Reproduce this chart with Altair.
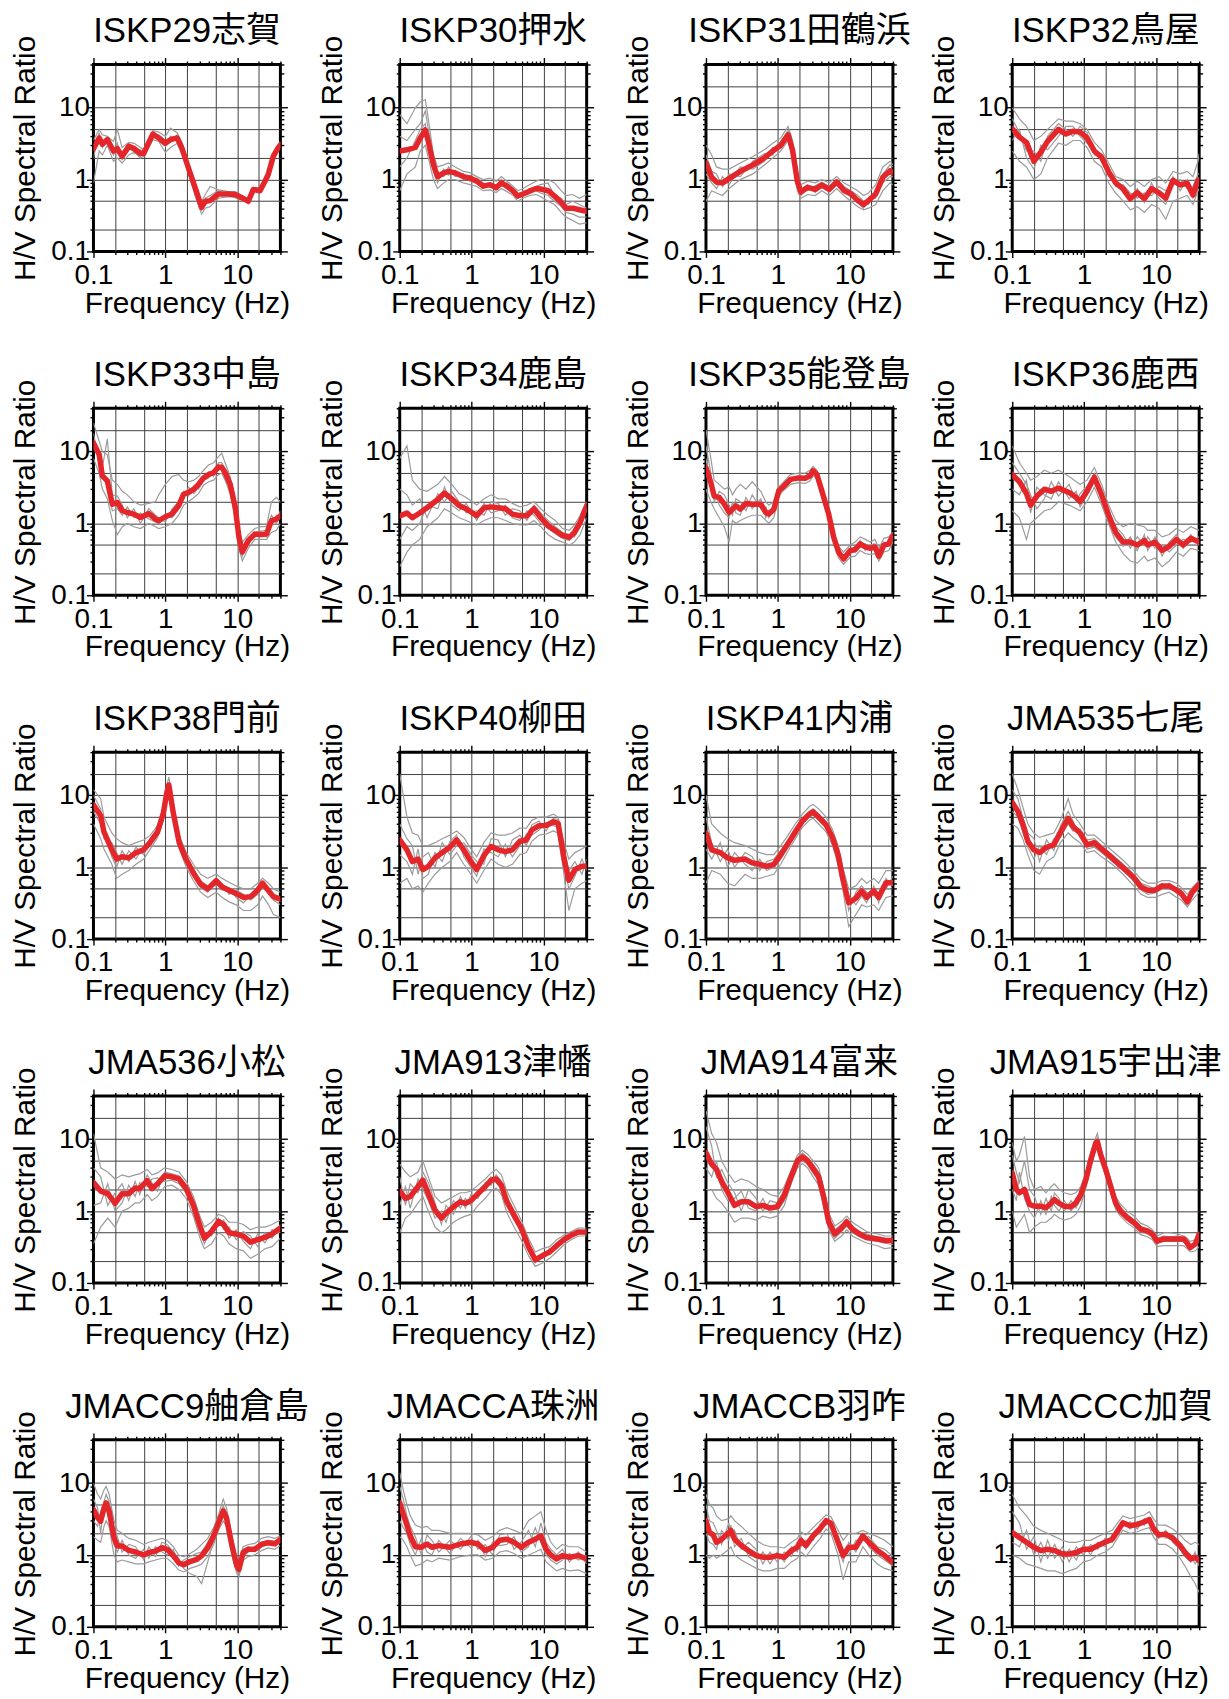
import altair as alt
import pandas as pd

# ---------------------------------------------------------------------------
# H/V spectral ratios per station: frequency samples (Hz), mean curve, and
# individual event curves on the same frequency samples.
# ---------------------------------------------------------------------------

ISKP29_F = [0.1, 0.12, 0.133, 0.156, 0.19, 0.215, 0.25, 0.31, 0.37, 0.45, 0.5, 0.59, 0.67, 0.81, 1.0, 1.18, 1.46, 1.7, 2.1, 2.6, 3.2, 3.6, 4.2, 5.5, 7.6, 9.4, 11.6, 14.3, 16.8, 20.8, 24.4, 27, 31.8, 37, 40]
ISKP29_MEAN = [2.7, 3.8, 3.1, 3.6, 2.5, 2.7, 2.1, 2.9, 2.7, 2.3, 2.3, 3.3, 4.3, 3.8, 3.2, 3.6, 3.8, 2.75, 1.45, 0.77, 0.41, 0.5, 0.51, 0.63, 0.63, 0.62, 0.56, 0.5, 0.73, 0.7, 0.95, 1.17, 2.1, 2.75, 3.05]
ISKP29_EVENTS = [
    [3.5, 5.0, 4.2, 4.0, 3.4, 5.0, 2.8, 3.3, 3.2, 2.8, 2.6, 3.6, 4.8, 4.6, 4.0, 5.2, 4.5, 3.3, 1.7, 0.9, 0.5, 0.62, 0.8, 0.72, 0.68, 0.68, 0.6, 0.52, 0.78, 0.75, 1.0, 1.25, 2.2, 2.9, 3.4],
    [0.9, 2.5, 2.2, 3.0, 1.8, 2.0, 1.7, 2.2, 2.4, 2.0, 2.1, 2.8, 3.6, 3.4, 2.4, 2.8, 3.2, 2.3, 1.2, 0.6, 0.33, 0.4, 0.42, 0.55, 0.58, 0.56, 0.52, 0.46, 0.68, 0.65, 0.88, 1.1, 1.9, 2.6, 2.9],
    [2.0, 4.5, 2.8, 3.9, 2.8, 2.3, 2.4, 3.2, 2.3, 2.6, 2.4, 3.0, 4.0, 4.2, 3.5, 3.3, 4.2, 3.0, 1.3, 0.7, 0.38, 0.55, 0.6, 0.7, 0.6, 0.64, 0.58, 0.5, 0.7, 0.72, 0.92, 1.2, 2.0, 2.8, 3.2],
    [3.0, 3.2, 3.6, 3.2, 2.2, 3.2, 1.9, 2.6, 2.9, 2.1, 2.5, 3.4, 4.5, 3.5, 2.9, 4.0, 3.5, 2.5, 1.5, 0.85, 0.45, 0.45, 0.5, 0.6, 0.65, 0.6, 0.55, 0.48, 0.75, 0.68, 0.96, 1.15, 2.2, 2.7, 3.0],
]

ISKP30_F = [0.1, 0.126, 0.165, 0.193, 0.227, 0.25, 0.295, 0.336, 0.41, 0.48, 0.59, 0.77, 0.95, 1.18, 1.45, 1.8, 2.2, 2.6, 3.1, 3.8, 4.4, 5.2, 6.4, 7.9, 9.1, 11.6, 14.3, 17.7, 20.6, 25.6, 31.7, 40]
ISKP30_MEAN = [2.5, 2.6, 2.8, 3.8, 4.9, 3.4, 1.6, 1.1, 1.24, 1.3, 1.24, 1.1, 1.05, 0.95, 0.81, 0.85, 0.77, 0.9, 0.81, 0.69, 0.59, 0.63, 0.69, 0.75, 0.74, 0.7, 0.59, 0.48, 0.4, 0.4, 0.38, 0.36]
ISKP30_EVENTS = [
    [8, 6, 10, 12, 13, 7, 2.2, 1.5, 1.6, 1.7, 1.5, 1.3, 1.25, 1.1, 1.0, 1.05, 0.95, 1.1, 0.95, 0.8, 0.7, 0.75, 0.85, 0.95, 1.0, 1.0, 0.9, 0.7, 0.6, 0.62, 0.55, 0.62],
    [0.7, 1.2, 1.5, 2.5, 3.0, 2.0, 1.0, 0.75, 0.9, 1.0, 1.0, 0.9, 0.85, 0.8, 0.7, 0.72, 0.66, 0.75, 0.68, 0.6, 0.5, 0.55, 0.6, 0.62, 0.58, 0.5, 0.45, 0.35, 0.3, 0.27, 0.24, 0.25],
    [4, 3.5, 5, 6, 9, 5, 2.0, 1.3, 1.1, 1.5, 1.1, 1.2, 0.95, 1.05, 0.9, 0.78, 0.85, 0.82, 0.9, 0.75, 0.55, 0.7, 0.65, 0.8, 0.85, 0.9, 0.6, 0.55, 0.45, 0.5, 0.45, 0.4],
    [1.5, 2.0, 3.5, 5, 6, 2.5, 1.3, 0.9, 1.4, 1.15, 1.35, 1.0, 1.15, 0.9, 0.75, 0.9, 0.72, 1.0, 0.75, 0.72, 0.62, 0.6, 0.75, 0.7, 0.65, 0.6, 0.5, 0.42, 0.35, 0.33, 0.3, 0.3],
]

ISKP31_F = [0.1, 0.12, 0.14, 0.17, 0.21, 0.3, 0.45, 0.65, 0.85, 1.1, 1.39, 1.6, 1.87, 2.1, 2.6, 3.3, 4.1, 5.2, 6.6, 8.3, 10.3, 13, 15.6, 18.3, 23, 29, 36.5, 40]
ISKP31_MEAN = [1.7, 1.08, 0.92, 0.9, 1.03, 1.3, 1.6, 2.0, 2.5, 3.0, 4.2, 2.6, 0.94, 0.67, 0.78, 0.73, 0.84, 0.73, 0.93, 0.71, 0.64, 0.51, 0.45, 0.51, 0.63, 1.08, 1.33, 1.25]
ISKP31_EVENTS = [
    [3.0, 2.2, 1.5, 1.4, 1.4, 1.7, 2.1, 2.6, 3.2, 3.8, 5.5, 3.5, 1.2, 0.85, 0.95, 0.9, 1.0, 0.9, 1.1, 0.9, 0.8, 0.7, 0.6, 0.65, 0.85, 1.5, 1.8, 1.6],
    [0.5, 0.7, 0.65, 0.6, 0.75, 1.0, 1.2, 1.6, 2.0, 2.5, 3.5, 2.0, 0.7, 0.55, 0.62, 0.6, 0.7, 0.6, 0.75, 0.6, 0.5, 0.42, 0.38, 0.4, 0.45, 0.7, 0.9, 0.85],
    [2.2, 1.3, 1.2, 0.8, 1.2, 1.1, 1.8, 2.3, 2.2, 3.4, 4.8, 3.0, 1.05, 0.75, 0.7, 0.82, 0.92, 0.8, 1.0, 0.8, 0.7, 0.6, 0.5, 0.45, 0.7, 1.2, 1.6, 1.5],
    [1.2, 0.9, 0.75, 1.1, 0.85, 1.5, 1.4, 1.8, 2.8, 2.7, 3.9, 2.3, 0.85, 0.6, 0.85, 0.66, 0.78, 0.68, 0.85, 0.65, 0.58, 0.48, 0.4, 0.55, 0.55, 0.9, 1.1, 1.1],
]

ISKP32_F = [0.1, 0.126, 0.158, 0.2, 0.25, 0.31, 0.44, 0.56, 0.7, 0.88, 1.1, 1.39, 1.75, 2.2, 2.75, 3.5, 4.4, 5.5, 6.9, 8.7, 11, 13.7, 17.3, 21.7, 27.3, 32.8, 38.6, 40]
ISKP32_MEAN = [5.1, 3.9, 3.3, 1.8, 2.4, 3.4, 5.0, 4.3, 4.7, 4.6, 3.8, 2.5, 2.05, 1.28, 0.9, 0.74, 0.54, 0.66, 0.54, 0.75, 0.66, 0.55, 0.98, 0.84, 0.89, 0.61, 0.98, 1.0]
ISKP32_EVENTS = [
    [10, 7, 5.5, 3.5, 4.0, 5.0, 7.0, 6.5, 6.5, 6.0, 5.0, 3.3, 2.6, 1.7, 1.1, 1.0, 0.8, 0.95, 0.8, 1.0, 1.1, 0.9, 1.3, 1.2, 1.3, 1.1, 1.8, 2.3],
    [2.5, 1.8, 1.5, 1.0, 1.2, 2.0, 3.2, 3.0, 3.5, 3.5, 2.8, 1.8, 1.5, 0.9, 0.65, 0.5, 0.38, 0.42, 0.35, 0.45, 0.4, 0.28, 0.5, 0.55, 0.6, 0.45, 0.7, 0.75],
    [7, 4.5, 2.5, 2.5, 1.8, 4.0, 6.0, 5.0, 4.0, 5.5, 4.5, 2.2, 2.3, 1.5, 0.8, 0.85, 0.65, 0.55, 0.65, 0.6, 0.8, 0.7, 0.85, 1.0, 0.75, 0.8, 1.2, 1.2],
    [3.5, 5.0, 2.0, 1.4, 3.0, 2.6, 4.0, 5.5, 5.5, 4.0, 3.2, 2.8, 1.8, 1.1, 1.0, 0.65, 0.5, 0.75, 0.48, 0.9, 0.55, 0.45, 1.1, 0.7, 1.0, 0.55, 0.85, 0.9],
]

ISKP33_F = [0.1, 0.12, 0.133, 0.156, 0.183, 0.215, 0.252, 0.296, 0.366, 0.45, 0.59, 0.73, 0.81, 1.0, 1.24, 1.53, 1.8, 2.1, 2.5, 2.9, 3.4, 4.0, 4.7, 5.5, 6.1, 6.8, 8.0, 9.4, 10.6, 11.8, 14.3, 17.6, 21.8, 25.6, 30, 35.2, 40]
ISKP33_MEAN = [13.2, 9.1, 4.6, 3.9, 1.85, 1.95, 1.5, 1.42, 1.35, 1.21, 1.37, 1.15, 1.09, 1.24, 1.35, 1.76, 2.55, 2.7, 3.0, 3.5, 4.3, 4.8, 5.1, 6.1, 6.0, 5.1, 3.5, 1.67, 0.64, 0.4, 0.58, 0.71, 0.7, 0.71, 1.09, 1.15, 1.28]
ISKP33_EVENTS = [
    [25, 14, 10, 9, 4, 3.5, 2.8, 2.5, 2.0, 1.8, 1.9, 2.0, 2.5, 3.5, 4.5, 4.8, 4.0, 3.8, 4.0, 4.5, 5.5, 6.5, 7.0, 8.5, 9.5, 7.0, 4.5, 2.2, 0.85, 0.55, 0.7, 0.85, 0.9, 0.9, 2.0, 2.3, 2.0],
    [8, 5, 3, 2.2, 1.1, 0.7, 0.9, 1.0, 0.9, 0.85, 1.0, 0.9, 0.85, 0.9, 1.0, 1.3, 1.8, 2.0, 2.3, 2.6, 3.4, 3.8, 4.0, 4.8, 5.0, 4.0, 2.6, 1.2, 0.45, 0.3, 0.45, 0.6, 0.6, 0.6, 0.75, 0.8, 1.0],
    [18, 7, 6, 15, 2.5, 2.4, 1.8, 1.2, 1.6, 1.0, 1.6, 1.3, 1.2, 1.05, 1.6, 2.0, 2.2, 3.2, 2.6, 3.2, 3.9, 5.2, 4.5, 7.0, 7.0, 5.8, 3.8, 2.0, 0.7, 0.45, 0.5, 0.75, 0.78, 0.8, 1.3, 1.0, 1.5],
    [11, 10, 5, 3.2, 1.5, 1.6, 1.3, 1.7, 1.2, 1.4, 1.15, 1.05, 1.0, 1.3, 1.2, 1.6, 2.8, 2.4, 3.3, 3.0, 4.0, 4.3, 5.5, 5.5, 6.5, 4.6, 3.2, 1.5, 0.55, 0.35, 0.62, 0.65, 0.72, 0.65, 0.95, 1.3, 1.2],
]

ISKP34_F = [0.1, 0.126, 0.15, 0.19, 0.24, 0.34, 0.42, 0.53, 0.67, 0.84, 1.18, 1.49, 1.87, 2.35, 2.96, 3.7, 4.7, 5.9, 7.4, 9.2, 11.6, 14.6, 18.4, 23, 27, 32.5, 40]
ISKP34_MEAN = [1.27, 1.4, 1.2, 1.4, 1.65, 2.15, 2.65, 2.2, 1.77, 1.6, 1.28, 1.65, 1.7, 1.65, 1.6, 1.35, 1.28, 1.28, 1.6, 1.2, 0.93, 0.8, 0.68, 0.64, 0.75, 1.03, 1.77]
ISKP34_EVENTS = [
    [8, 12, 4, 3.0, 2.8, 3.5, 4.5, 3.5, 2.6, 2.3, 1.8, 2.2, 2.5, 2.2, 2.2, 1.9, 1.7, 1.8, 2.0, 1.6, 1.3, 1.1, 0.85, 0.8, 0.95, 1.3, 2.0],
    [0.25, 0.4, 0.5, 0.6, 0.9, 1.2, 1.6, 1.4, 1.2, 1.1, 0.95, 1.1, 1.2, 1.2, 1.1, 1.0, 0.95, 0.95, 1.1, 0.9, 0.7, 0.6, 0.55, 0.5, 0.55, 0.7, 1.2],
    [3, 2.5, 1.8, 2.2, 1.2, 2.6, 2.0, 2.8, 2.0, 1.4, 1.5, 1.3, 2.0, 1.9, 1.3, 1.6, 1.5, 1.1, 1.8, 1.4, 1.1, 0.9, 0.75, 0.7, 0.65, 0.9, 1.6],
    [0.6, 0.9, 0.8, 1.0, 1.8, 1.6, 3.2, 1.8, 1.5, 1.9, 1.1, 1.9, 1.4, 1.5, 1.8, 1.2, 1.1, 1.5, 1.3, 1.0, 0.85, 0.72, 0.62, 0.58, 0.85, 1.15, 1.5],
]

ISKP35_F = [0.1, 0.117, 0.13, 0.153, 0.18, 0.21, 0.234, 0.26, 0.3, 0.36, 0.44, 0.58, 0.68, 0.75, 0.88, 1.03, 1.21, 1.5, 1.95, 2.4, 2.8, 3.1, 3.5, 4.1, 5.1, 6.0, 7.0, 8.2, 10.2, 11.9, 14, 16.5, 19.4, 22.5, 25.5, 30, 35, 40]
ISKP35_MEAN = [6.0, 3.7, 2.4, 2.3, 1.85, 1.42, 1.58, 1.76, 1.58, 1.89, 1.85, 1.85, 1.42, 1.35, 1.58, 2.84, 3.3, 4.1, 4.3, 4.25, 4.6, 5.4, 4.8, 2.84, 1.35, 0.64, 0.4, 0.32, 0.42, 0.43, 0.52, 0.47, 0.45, 0.47, 0.35, 0.5, 0.52, 0.68]
ISKP35_EVENTS = [
    [20, 8, 4, 3.5, 3.0, 3.2, 2.5, 3.0, 3.5, 3.0, 3.8, 2.8, 2.0, 1.8, 2.0, 3.2, 3.8, 4.8, 5.0, 5.0, 5.5, 6.2, 5.5, 3.3, 1.6, 0.75, 0.48, 0.4, 0.5, 0.55, 0.65, 0.6, 0.55, 0.6, 0.45, 0.62, 0.65, 0.75],
    [3, 2.0, 1.6, 1.2, 0.9, 0.55, 1.1, 1.0, 1.1, 1.2, 1.3, 1.3, 1.1, 1.0, 1.2, 2.4, 2.9, 3.5, 3.7, 3.6, 3.9, 4.6, 4.2, 2.5, 1.2, 0.55, 0.33, 0.27, 0.34, 0.35, 0.42, 0.38, 0.37, 0.38, 0.3, 0.4, 0.42, 0.55],
    [12, 5, 2.0, 2.8, 2.5, 1.8, 1.3, 2.2, 2.0, 1.5, 2.5, 1.6, 1.7, 1.2, 1.8, 2.6, 3.5, 4.3, 4.0, 4.6, 4.3, 5.8, 5.0, 3.0, 1.45, 0.7, 0.42, 0.35, 0.45, 0.4, 0.58, 0.42, 0.5, 0.52, 0.38, 0.45, 0.6, 0.65],
    [8, 3.0, 2.8, 1.8, 1.4, 1.2, 2.0, 1.4, 1.3, 2.3, 1.6, 2.2, 1.2, 1.5, 1.4, 3.0, 3.1, 3.8, 4.6, 4.0, 4.8, 5.0, 4.5, 2.7, 1.3, 0.6, 0.38, 0.3, 0.4, 0.48, 0.48, 0.52, 0.42, 0.45, 0.33, 0.55, 0.48, 0.6],
]

ISKP36_F = [0.1, 0.126, 0.158, 0.18, 0.22, 0.28, 0.35, 0.44, 0.62, 0.78, 0.88, 1.1, 1.39, 1.75, 2.2, 2.75, 3.5, 4.4, 5.5, 6.9, 7.7, 9.7, 12.2, 15.3, 19.3, 24, 30.6, 40]
ISKP36_MEAN = [4.8, 3.8, 2.6, 1.8, 2.4, 3.0, 2.8, 3.1, 2.7, 2.3, 2.0, 2.8, 4.4, 2.5, 1.3, 0.75, 0.55, 0.55, 0.5, 0.58, 0.5, 0.55, 0.42, 0.48, 0.6, 0.5, 0.62, 0.55]
ISKP36_EVENTS = [
    [12, 7, 5, 4, 4.5, 5.5, 5, 5.5, 4.5, 3.8, 3.5, 4.0, 6.0, 3.5, 1.8, 1.1, 0.9, 1.0, 0.95, 0.9, 0.8, 0.8, 0.65, 0.7, 0.85, 0.75, 0.9, 0.8],
    [1.5, 1.2, 0.6, 1.0, 1.2, 1.5, 1.6, 2.0, 1.8, 1.6, 1.5, 2.0, 3.2, 1.8, 1.0, 0.55, 0.38, 0.3, 0.28, 0.35, 0.3, 0.33, 0.25, 0.3, 0.4, 0.35, 0.45, 0.42],
    [7, 5, 3.5, 2.5, 1.6, 2.2, 3.8, 2.4, 3.5, 2.0, 2.6, 3.3, 5.0, 3.0, 1.5, 0.9, 0.7, 0.45, 0.65, 0.5, 0.65, 0.45, 0.5, 0.4, 0.5, 0.6, 0.55, 0.65],
    [3, 2.5, 4, 1.4, 3.2, 2.5, 2.2, 3.8, 2.2, 2.8, 1.7, 2.5, 4.0, 2.2, 1.2, 0.65, 0.48, 0.65, 0.42, 0.7, 0.42, 0.65, 0.35, 0.55, 0.7, 0.45, 0.7, 0.5],
]

ISKP38_F = [0.1, 0.126, 0.14, 0.18, 0.21, 0.25, 0.31, 0.39, 0.5, 0.62, 0.78, 0.94, 1.05, 1.12, 1.3, 1.56, 1.96, 2.46, 3.1, 3.9, 5.1, 6.2, 7.7, 9.7, 12.2, 15.4, 19.3, 22.6, 27.4, 32, 40]
ISKP38_MEAN = [7.4, 5.2, 3.1, 1.75, 1.3, 1.4, 1.35, 1.6, 1.75, 2.25, 3.1, 5.7, 11, 14, 5.5, 2.2, 1.28, 0.83, 0.58, 0.5, 0.65, 0.53, 0.48, 0.43, 0.38, 0.39, 0.48, 0.6, 0.47, 0.39, 0.36]
ISKP38_EVENTS = [
    [12, 9, 5, 3.0, 2.5, 2.2, 2.0, 2.2, 2.4, 2.8, 3.8, 7.0, 14, 18, 7.0, 2.8, 1.6, 1.1, 0.8, 0.7, 0.8, 0.7, 0.62, 0.55, 0.5, 0.5, 0.6, 0.7, 0.6, 0.5, 0.45],
    [4, 2.5, 1.8, 1.1, 0.7, 0.8, 0.9, 1.1, 1.3, 1.8, 2.6, 4.5, 9, 11, 4.5, 1.8, 1.0, 0.65, 0.45, 0.38, 0.45, 0.38, 0.33, 0.3, 0.25, 0.25, 0.3, 0.4, 0.3, 0.22, 0.2],
    [10, 6.5, 2.5, 2.2, 1.6, 1.1, 1.7, 1.3, 2.0, 2.0, 3.4, 6.2, 12, 15, 6.0, 2.5, 1.4, 0.95, 0.65, 0.55, 0.55, 0.6, 0.42, 0.48, 0.42, 0.35, 0.42, 0.52, 0.5, 0.35, 0.3],
    [6, 4.0, 3.5, 1.4, 1.0, 1.7, 1.2, 1.9, 1.5, 2.5, 2.9, 5.2, 10, 12, 5.0, 2.0, 1.15, 0.75, 0.52, 0.45, 0.7, 0.48, 0.52, 0.38, 0.32, 0.42, 0.52, 0.62, 0.42, 0.42, 0.33],
]

ISKP40_F = [0.1, 0.126, 0.15, 0.18, 0.21, 0.25, 0.31, 0.39, 0.5, 0.62, 0.78, 0.98, 1.18, 1.48, 1.87, 2.35, 2.96, 3.7, 4.7, 5.8, 6.9, 8.7, 10.9, 13.7, 16, 19.3, 22.6, 27.4, 34.4, 40]
ISKP40_MEAN = [2.4, 1.75, 1.2, 1.3, 0.93, 1.03, 1.35, 1.6, 1.9, 2.4, 1.75, 1.2, 0.93, 1.45, 1.95, 1.75, 1.65, 1.75, 2.3, 2.4, 3.3, 3.8, 3.8, 4.3, 4.1, 1.35, 0.66, 0.93, 1.03, 1.03]
ISKP40_EVENTS = [
    [20, 5, 3.0, 2.8, 2.0, 2.0, 2.2, 2.5, 2.8, 3.2, 2.6, 1.8, 1.4, 2.2, 3.0, 2.8, 2.8, 3.0, 3.5, 3.5, 4.5, 5.0, 5.0, 5.5, 5.0, 2.2, 1.3, 1.6, 1.8, 2.0],
    [0.6, 0.7, 0.5, 0.55, 0.45, 0.6, 0.8, 1.0, 1.2, 1.6, 1.1, 0.8, 0.6, 0.9, 1.3, 1.1, 1.0, 1.1, 1.5, 1.6, 2.3, 2.8, 2.9, 3.2, 3.0, 0.8, 0.25, 0.5, 0.6, 0.65],
    [4, 2.5, 2.0, 0.8, 1.4, 1.6, 1.0, 2.2, 1.5, 2.0, 2.2, 1.5, 1.2, 1.1, 2.5, 2.4, 1.4, 2.4, 2.8, 2.0, 3.9, 4.4, 3.2, 4.8, 4.6, 1.8, 0.9, 1.2, 0.8, 1.3],
    [1.5, 1.2, 0.8, 1.8, 0.7, 0.8, 1.6, 1.2, 2.3, 2.8, 1.4, 1.0, 0.75, 1.8, 1.6, 1.4, 2.1, 1.4, 2.0, 2.9, 2.8, 3.3, 4.2, 3.8, 3.6, 1.1, 0.5, 0.75, 1.3, 0.9],
]

ISKP41_F = [0.1, 0.12, 0.158, 0.2, 0.25, 0.35, 0.44, 0.56, 0.7, 0.88, 1.1, 1.39, 1.75, 2.2, 2.75, 3.1, 3.7, 4.7, 5.8, 6.9, 8.0, 9.7, 12.2, 14.7, 17.2, 21.7, 25.3, 32, 40]
ISKP41_MEAN = [3.0, 1.75, 1.6, 1.35, 1.25, 1.3, 1.15, 1.1, 1.03, 1.1, 1.5, 2.15, 3.1, 4.4, 5.5, 5.9, 5.0, 3.9, 2.55, 1.5, 0.7, 0.32, 0.37, 0.47, 0.38, 0.47, 0.38, 0.61, 0.61]
ISKP41_EVENTS = [
    [10, 4.0, 3.0, 2.5, 2.2, 2.0, 1.8, 1.6, 1.5, 1.5, 2.0, 2.8, 4.0, 5.5, 7.0, 7.5, 6.5, 5.0, 3.3, 2.0, 1.0, 0.5, 0.55, 0.7, 0.6, 0.7, 0.6, 0.9, 0.9],
    [0.6, 0.9, 0.8, 0.6, 0.55, 0.8, 0.7, 0.7, 0.75, 0.8, 1.1, 1.7, 2.5, 3.6, 4.5, 4.8, 4.0, 3.1, 2.0, 1.1, 0.5, 0.15, 0.22, 0.3, 0.28, 0.3, 0.25, 0.38, 0.4],
    [5, 2.2, 1.2, 1.8, 1.0, 1.6, 1.4, 0.9, 1.2, 1.3, 1.7, 2.4, 3.5, 4.8, 6.0, 6.5, 5.5, 4.4, 2.8, 1.7, 0.8, 0.25, 0.45, 0.55, 0.45, 0.4, 0.45, 0.5, 0.75],
    [1.8, 1.3, 2.2, 1.0, 1.6, 1.1, 0.9, 1.3, 0.9, 1.0, 1.3, 1.9, 2.8, 4.0, 5.0, 5.3, 4.5, 3.5, 2.3, 1.3, 0.6, 0.4, 0.3, 0.4, 0.32, 0.55, 0.32, 0.7, 0.55],
]

JMA535_F = [0.1, 0.12, 0.14, 0.165, 0.2, 0.24, 0.3, 0.38, 0.47, 0.6, 0.7, 0.88, 1.1, 1.39, 1.75, 2.46, 3.5, 4.9, 6.2, 7.7, 9.7, 12.2, 15.3, 19.3, 22.6, 27.4, 32, 40]
JMA535_MEAN = [8.0, 6.0, 4.0, 2.3, 1.75, 1.6, 1.9, 2.05, 3.1, 4.8, 3.7, 3.0, 2.05, 2.2, 1.8, 1.35, 0.98, 0.72, 0.53, 0.48, 0.48, 0.55, 0.55, 0.48, 0.43, 0.33, 0.45, 0.58]
JMA535_EVENTS = [
    [20, 12, 7, 4.0, 3.0, 2.6, 2.8, 3.0, 4.5, 9.0, 5.5, 4.0, 2.8, 2.8, 2.3, 1.7, 1.25, 0.9, 0.68, 0.6, 0.6, 0.65, 0.65, 0.6, 0.52, 0.42, 0.52, 0.65],
    [4, 3.5, 2.5, 1.5, 0.9, 0.8, 1.2, 1.4, 2.2, 3.0, 2.6, 2.2, 1.6, 1.7, 1.4, 1.1, 0.8, 0.55, 0.42, 0.38, 0.38, 0.42, 0.45, 0.38, 0.35, 0.28, 0.35, 0.45],
    [12, 9, 5, 3.0, 2.5, 1.2, 2.4, 1.7, 3.8, 6.0, 4.4, 2.6, 2.4, 2.5, 2.0, 1.5, 1.1, 0.8, 0.6, 0.55, 0.5, 0.6, 0.5, 0.52, 0.48, 0.36, 0.48, 0.55],
    [6, 5, 3.2, 1.9, 1.3, 2.0, 1.5, 2.5, 2.6, 4.0, 3.2, 3.4, 1.8, 1.9, 1.6, 1.2, 0.9, 0.65, 0.48, 0.42, 0.44, 0.5, 0.6, 0.44, 0.4, 0.3, 0.42, 0.5],
]

JMA536_F = [0.1, 0.126, 0.158, 0.2, 0.25, 0.31, 0.38, 0.44, 0.56, 0.65, 0.78, 0.98, 1.23, 1.55, 1.96, 2.46, 3.1, 3.5, 4.4, 5.5, 6.5, 7.7, 9.7, 12.2, 15.3, 19.3, 24.3, 30.6, 40]
JMA536_MEAN = [2.5, 1.9, 1.75, 1.28, 1.75, 1.75, 2.1, 2.05, 2.65, 2.05, 2.4, 3.1, 3.0, 2.8, 2.05, 1.2, 0.58, 0.42, 0.52, 0.72, 0.65, 0.5, 0.48, 0.45, 0.37, 0.4, 0.43, 0.48, 0.58]
JMA536_EVENTS = [
    [12, 4.0, 3.5, 2.8, 3.2, 3.0, 3.2, 3.3, 3.8, 3.2, 3.4, 4.0, 3.8, 3.5, 2.6, 1.6, 0.8, 0.6, 0.7, 0.9, 0.85, 0.7, 0.7, 0.65, 0.55, 0.6, 0.6, 0.65, 0.75],
    [0.35, 0.6, 0.8, 0.6, 1.0, 1.1, 1.3, 1.3, 1.7, 1.4, 1.6, 2.2, 2.3, 2.0, 1.5, 0.85, 0.4, 0.3, 0.35, 0.5, 0.45, 0.35, 0.3, 0.28, 0.22, 0.25, 0.3, 0.32, 0.42],
    [4, 3.0, 1.2, 1.8, 2.4, 1.4, 2.6, 1.7, 3.2, 2.5, 1.9, 3.5, 3.3, 3.1, 2.3, 1.4, 0.7, 0.5, 0.45, 0.8, 0.55, 0.6, 0.4, 0.52, 0.45, 0.32, 0.5, 0.42, 0.65],
    [1.2, 1.3, 2.4, 1.0, 1.3, 2.3, 1.6, 2.5, 2.2, 2.8, 2.9, 2.6, 2.7, 2.4, 1.8, 1.0, 0.5, 0.35, 0.6, 0.62, 0.75, 0.42, 0.55, 0.38, 0.3, 0.48, 0.36, 0.55, 0.5],
]

JMA913_F = [0.1, 0.12, 0.14, 0.18, 0.21, 0.25, 0.31, 0.38, 0.44, 0.56, 0.7, 0.82, 0.98, 1.23, 1.55, 1.87, 2.2, 2.6, 3.1, 3.9, 4.9, 6.2, 7.7, 9.7, 12.2, 15.3, 19.3, 24.3, 30.6, 40]
JMA913_MEAN = [1.9, 1.5, 1.6, 2.2, 2.7, 1.75, 1.03, 0.8, 0.93, 1.15, 1.35, 1.28, 1.4, 1.75, 2.2, 2.7, 2.8, 2.3, 1.35, 0.88, 0.58, 0.32, 0.21, 0.24, 0.27, 0.33, 0.4, 0.46, 0.51, 0.51]
JMA913_EVENTS = [
    [4.5, 3.5, 3.0, 3.5, 5.0, 3.0, 1.6, 1.3, 1.4, 1.6, 1.8, 1.8, 1.9, 2.3, 2.8, 3.4, 3.8, 3.2, 1.9, 1.2, 0.75, 0.42, 0.27, 0.3, 0.32, 0.4, 0.46, 0.52, 0.58, 0.58],
    [0.5, 0.8, 0.9, 1.3, 1.6, 1.0, 0.6, 0.5, 0.55, 0.7, 0.8, 0.85, 0.9, 1.2, 1.5, 1.9, 2.1, 1.7, 0.95, 0.6, 0.4, 0.24, 0.17, 0.19, 0.22, 0.27, 0.34, 0.4, 0.45, 0.45],
    [3.0, 1.2, 2.4, 1.8, 3.5, 2.5, 1.3, 0.65, 1.2, 0.9, 1.6, 1.1, 1.7, 1.5, 2.5, 2.3, 3.2, 2.6, 1.6, 1.0, 0.5, 0.36, 0.23, 0.22, 0.3, 0.3, 0.43, 0.48, 0.55, 0.54],
    [1.2, 2.2, 1.1, 2.8, 2.0, 1.4, 0.8, 1.0, 0.7, 1.4, 1.1, 1.5, 1.2, 2.0, 1.9, 3.0, 2.5, 2.0, 1.2, 0.75, 0.65, 0.28, 0.19, 0.26, 0.25, 0.36, 0.38, 0.44, 0.48, 0.48],
]

JMA914_F = [0.1, 0.12, 0.14, 0.165, 0.2, 0.25, 0.31, 0.39, 0.5, 0.62, 0.78, 0.98, 1.23, 1.55, 1.87, 2.2, 2.6, 3.1, 3.7, 4.4, 5.1, 6.2, 7.7, 9.1, 10.9, 13.7, 17.2, 24.3, 30.6, 40]
JMA914_MEAN = [6.5, 4.5, 3.8, 2.6, 1.85, 1.2, 1.35, 1.35, 1.15, 1.2, 1.1, 1.15, 1.65, 3.1, 5.0, 5.7, 5.0, 3.9, 3.0, 1.5, 0.71, 0.48, 0.58, 0.71, 0.56, 0.48, 0.43, 0.41, 0.39, 0.39]
JMA914_EVENTS = [
    [25, 12, 9, 5, 3.5, 2.5, 2.8, 2.6, 2.2, 2.0, 1.7, 1.6, 2.2, 3.8, 6.0, 7.0, 6.2, 5.0, 4.0, 2.0, 0.95, 0.62, 0.72, 0.85, 0.7, 0.6, 0.52, 0.48, 0.45, 0.45],
    [2.0, 2.0, 1.5, 1.3, 1.0, 0.7, 0.8, 0.8, 0.75, 0.85, 0.8, 0.85, 1.2, 2.5, 4.0, 4.6, 4.0, 3.0, 2.3, 1.1, 0.55, 0.38, 0.45, 0.55, 0.45, 0.4, 0.36, 0.33, 0.3, 0.31],
    [15, 8, 3.0, 3.8, 2.5, 1.8, 1.0, 2.0, 1.5, 1.0, 1.4, 1.3, 2.0, 3.5, 5.5, 6.5, 5.6, 4.5, 3.5, 1.8, 0.8, 0.55, 0.65, 0.78, 0.62, 0.52, 0.48, 0.44, 0.42, 0.36],
    [4.0, 3.0, 5.0, 2.0, 1.4, 1.5, 1.9, 1.1, 1.0, 1.5, 0.95, 1.0, 1.4, 2.8, 4.5, 5.0, 4.5, 3.4, 2.6, 1.3, 0.6, 0.42, 0.52, 0.62, 0.5, 0.44, 0.4, 0.38, 0.36, 0.34],
]

JMA915_F = [0.1, 0.114, 0.126, 0.148, 0.174, 0.204, 0.25, 0.295, 0.35, 0.386, 0.45, 0.53, 0.66, 0.77, 0.9, 1.06, 1.24, 1.45, 1.53, 1.7, 2.0, 2.35, 2.75, 3.2, 4.0, 5.0, 6.1, 7.6, 8.9, 10.4, 12.9, 15.9, 19.7, 24.4, 27.2, 30, 35.4, 40]
JMA915_MEAN = [3.4, 2.0, 1.8, 2.0, 1.24, 1.17, 1.17, 1.11, 1.3, 1.45, 1.28, 1.17, 1.15, 1.3, 1.7, 2.74, 5.2, 8.8, 9.3, 6.1, 3.8, 2.2, 1.3, 1.0, 0.81, 0.69, 0.56, 0.53, 0.48, 0.38, 0.41, 0.41, 0.41, 0.41, 0.36, 0.31, 0.35, 0.48]
JMA915_EVENTS = [
    [9, 5, 6, 11, 3.0, 2.0, 2.2, 1.8, 2.2, 2.4, 2.0, 1.8, 1.7, 1.8, 2.2, 3.5, 6.5, 10.5, 12, 7.5, 4.5, 2.7, 1.6, 1.25, 1.0, 0.85, 0.68, 0.62, 0.55, 0.45, 0.5, 0.5, 0.48, 0.45, 0.42, 0.38, 0.4, 0.5],
    [1.0, 0.6, 0.7, 0.9, 0.5, 0.6, 0.7, 0.7, 0.8, 0.9, 0.8, 0.75, 0.8, 0.9, 1.2, 2.1, 4.0, 7.0, 7.8, 5.0, 3.1, 1.8, 1.05, 0.85, 0.68, 0.58, 0.47, 0.44, 0.4, 0.32, 0.33, 0.33, 0.33, 0.33, 0.3, 0.27, 0.28, 0.32],
    [6, 3.5, 2.5, 5, 2.0, 1.6, 0.9, 1.5, 1.0, 1.8, 1.5, 1.0, 1.4, 1.1, 1.5, 3.0, 5.8, 9.5, 10.5, 6.8, 4.2, 2.4, 1.4, 1.15, 0.9, 0.75, 0.62, 0.56, 0.52, 0.42, 0.45, 0.44, 0.45, 0.43, 0.38, 0.33, 0.36, 0.44],
    [2.0, 1.4, 3.5, 1.5, 1.0, 0.8, 1.4, 0.9, 1.6, 1.2, 1.0, 1.4, 1.0, 1.5, 1.4, 2.4, 4.6, 8.0, 8.5, 5.6, 3.5, 2.0, 1.2, 0.92, 0.75, 0.62, 0.52, 0.48, 0.44, 0.36, 0.38, 0.38, 0.38, 0.38, 0.33, 0.29, 0.32, 0.4],
]

JMACC9_F = [0.1, 0.114, 0.126, 0.14, 0.15, 0.165, 0.193, 0.215, 0.25, 0.31, 0.385, 0.5, 0.59, 0.73, 0.9, 1.06, 1.3, 1.53, 1.8, 2.2, 2.75, 3.2, 3.9, 4.7, 5.5, 6.4, 7.1, 8.4, 9.9, 10.6, 12.1, 14.3, 17.6, 21.8, 27, 33.5, 40]
JMACC9_MEAN = [4.3, 3.3, 2.95, 4.5, 5.3, 4.1, 1.74, 1.33, 1.33, 1.16, 1.1, 1.0, 1.08, 1.13, 1.26, 1.2, 0.97, 0.78, 0.73, 0.81, 0.87, 0.97, 1.26, 1.83, 2.8, 4.1, 3.3, 1.4, 0.7, 0.63, 1.08, 1.2, 1.2, 1.4, 1.48, 1.43, 1.65]
JMACC9_EVENTS = [
    [10, 7, 6, 8, 9, 7, 3.0, 2.2, 2.0, 1.7, 1.6, 1.4, 1.5, 1.6, 1.7, 1.6, 1.3, 1.0, 0.95, 1.05, 1.2, 1.4, 1.7, 2.4, 3.6, 6.0, 4.5, 1.9, 0.9, 0.8, 1.3, 1.4, 1.45, 1.7, 1.8, 1.7, 1.85],
    [1.8, 1.6, 1.5, 2.5, 3.0, 2.5, 1.0, 0.8, 0.85, 0.8, 0.75, 0.75, 0.8, 0.85, 0.9, 0.9, 0.75, 0.62, 0.58, 0.65, 0.7, 0.75, 0.95, 1.4, 2.2, 3.0, 2.5, 1.0, 0.55, 0.5, 0.85, 0.95, 1.0, 1.15, 1.25, 1.2, 1.35],
    [6, 4.5, 2.0, 5.5, 7, 5.5, 2.3, 1.8, 1.1, 1.4, 1.3, 0.85, 1.3, 0.95, 1.5, 1.4, 1.1, 0.9, 0.65, 0.55, 0.5, 0.4, 0.8, 1.6, 3.0, 4.8, 3.8, 1.6, 0.75, 0.7, 1.2, 1.3, 1.1, 1.5, 1.6, 1.55, 1.75],
    [3.0, 2.5, 4.0, 3.5, 4.5, 3.2, 1.4, 1.1, 1.6, 1.0, 0.9, 1.2, 0.9, 1.3, 1.1, 1.0, 1.2, 0.7, 0.85, 0.95, 1.05, 1.1, 1.5, 2.1, 2.5, 3.5, 2.9, 1.2, 0.6, 0.55, 0.95, 1.1, 1.3, 1.3, 1.4, 1.35, 1.5],
]

JMACCA_F = [0.1, 0.112, 0.126, 0.14, 0.165, 0.2, 0.24, 0.28, 0.35, 0.5, 0.7, 0.98, 1.23, 1.55, 1.96, 2.46, 3.1, 3.9, 4.9, 6.2, 7.7, 9.2, 10.9, 12.7, 15.3, 18.4, 23, 30.6, 40]
JMACCA_MEAN = [5.3, 3.7, 2.6, 1.85, 1.3, 1.28, 1.42, 1.28, 1.35, 1.28, 1.42, 1.5, 1.42, 1.15, 1.28, 1.6, 1.65, 1.5, 1.28, 1.5, 1.65, 1.85, 1.2, 1.0, 0.88, 0.98, 0.93, 0.98, 0.88]
JMACCA_EVENTS = [
    [14, 8, 5, 3.5, 2.6, 2.4, 2.5, 2.2, 2.2, 2.0, 2.0, 2.0, 1.9, 1.6, 1.8, 2.2, 2.4, 2.2, 2.0, 3.0, 3.5, 4.0, 2.2, 1.5, 1.2, 1.4, 1.3, 1.3, 1.1],
    [1.8, 1.6, 1.3, 1.0, 0.7, 0.75, 0.85, 0.8, 0.9, 0.85, 0.95, 1.0, 1.0, 0.85, 0.9, 1.1, 1.15, 1.05, 0.9, 1.0, 1.1, 1.2, 0.8, 0.7, 0.6, 0.65, 0.6, 0.62, 0.55],
    [9, 6, 3.5, 2.5, 1.8, 1.0, 1.9, 1.6, 1.1, 1.6, 1.2, 1.8, 1.2, 1.4, 1.0, 1.9, 2.0, 1.2, 1.5, 2.2, 1.3, 2.8, 1.5, 1.2, 1.0, 1.2, 0.8, 1.1, 0.75],
    [3.0, 2.4, 2.0, 1.4, 1.0, 1.7, 1.1, 1.0, 1.6, 1.05, 1.7, 1.25, 1.6, 0.95, 1.5, 1.35, 1.4, 1.8, 1.1, 1.3, 2.4, 1.5, 1.0, 0.85, 0.75, 0.85, 1.05, 0.85, 1.0],
]

JMACCB_F = [0.1, 0.112, 0.126, 0.14, 0.165, 0.208, 0.222, 0.25, 0.31, 0.39, 0.5, 0.62, 0.78, 0.98, 1.23, 1.55, 1.87, 2.1, 2.46, 3.1, 3.9, 4.7, 5.5, 6.9, 8.1, 9.7, 12.2, 15.3, 18.4, 24.3, 30.6, 40]
JMACCB_MEAN = [3.0, 2.05, 1.9, 1.5, 1.65, 2.05, 2.2, 1.65, 1.35, 1.15, 0.98, 0.93, 0.93, 0.98, 0.93, 1.15, 1.28, 1.6, 1.35, 1.85, 2.35, 3.0, 2.75, 1.5, 0.98, 1.28, 1.28, 1.85, 1.5, 1.15, 0.98, 0.78]
JMACCB_EVENTS = [
    [7, 5, 4.5, 3.5, 3.0, 3.2, 3.5, 3.0, 2.5, 2.0, 1.6, 1.4, 1.3, 1.3, 1.25, 1.5, 1.7, 2.1, 1.9, 2.4, 3.0, 3.6, 3.4, 2.2, 1.6, 2.0, 2.0, 2.2, 2.0, 1.8, 1.6, 1.3],
    [1.0, 0.9, 1.0, 0.9, 1.0, 1.2, 1.3, 1.0, 0.85, 0.75, 0.65, 0.6, 0.6, 0.65, 0.65, 0.8, 0.9, 1.1, 0.95, 1.3, 1.7, 2.3, 2.0, 1.0, 0.45, 0.8, 0.8, 1.3, 1.0, 0.75, 0.65, 0.6],
    [5, 3.0, 2.8, 2.2, 1.4, 2.8, 1.8, 2.2, 1.2, 1.5, 1.2, 0.75, 1.1, 0.8, 1.1, 0.95, 1.5, 1.3, 1.6, 1.6, 2.7, 2.6, 3.0, 1.8, 1.2, 1.0, 1.6, 1.6, 1.8, 1.3, 1.2, 0.95],
    [2.0, 1.5, 1.4, 1.2, 2.2, 1.6, 2.6, 1.3, 1.7, 0.95, 0.8, 1.1, 0.75, 1.1, 0.8, 1.3, 1.1, 1.8, 1.2, 2.0, 2.0, 3.2, 2.4, 1.3, 0.8, 1.5, 1.1, 2.0, 1.3, 1.0, 0.85, 0.7],
]

JMACCC_F = [0.1, 0.126, 0.158, 0.2, 0.25, 0.31, 0.39, 0.5, 0.62, 0.78, 0.98, 1.23, 1.55, 1.96, 2.46, 3.1, 3.47, 4.36, 5.5, 6.9, 8.1, 9.2, 10.9, 13.7, 17.2, 21.7, 25.4, 30.6, 35.1, 40]
JMACCC_MEAN = [2.05, 1.75, 1.5, 1.28, 1.15, 1.2, 1.15, 1.03, 1.03, 1.08, 1.2, 1.2, 1.35, 1.5, 1.65, 2.35, 2.8, 2.55, 2.65, 2.9, 3.1, 2.35, 1.9, 1.95, 1.7, 1.35, 1.08, 0.88, 0.93, 0.83]
JMACCC_EVENTS = [
    [7, 4.5, 3.5, 2.5, 2.2, 2.0, 1.8, 1.6, 1.5, 1.5, 1.6, 1.6, 1.8, 2.0, 2.2, 3.0, 3.5, 3.2, 3.4, 3.6, 4.0, 3.2, 2.6, 2.6, 2.3, 1.9, 1.6, 1.4, 1.5, 1.4],
    [1.0, 0.9, 0.75, 0.7, 0.65, 0.6, 0.6, 0.55, 0.6, 0.65, 0.8, 0.85, 1.0, 1.1, 1.3, 1.9, 2.2, 2.0, 2.1, 2.3, 2.4, 1.8, 1.4, 1.4, 1.2, 0.9, 0.7, 0.5, 0.4, 0.3],
    [4, 2.8, 1.2, 1.8, 0.8, 1.6, 0.9, 1.3, 0.8, 1.3, 1.0, 1.4, 1.2, 1.7, 1.5, 2.6, 2.5, 2.9, 2.3, 3.2, 2.8, 2.6, 2.1, 1.7, 1.9, 1.5, 1.2, 1.0, 0.75, 0.9],
    [1.5, 1.3, 2.2, 1.0, 1.5, 0.9, 1.4, 0.8, 1.2, 0.85, 1.4, 1.0, 1.5, 1.3, 1.9, 2.1, 3.0, 2.3, 2.9, 2.6, 3.3, 2.1, 1.7, 2.2, 1.5, 1.2, 0.95, 0.8, 1.1, 0.7],
]

STATIONS = [
    ("ISKP29志賀", ISKP29_F, ISKP29_MEAN, ISKP29_EVENTS),
    ("ISKP30押水", ISKP30_F, ISKP30_MEAN, ISKP30_EVENTS),
    ("ISKP31田鶴浜", ISKP31_F, ISKP31_MEAN, ISKP31_EVENTS),
    ("ISKP32鳥屋", ISKP32_F, ISKP32_MEAN, ISKP32_EVENTS),
    ("ISKP33中島", ISKP33_F, ISKP33_MEAN, ISKP33_EVENTS),
    ("ISKP34鹿島", ISKP34_F, ISKP34_MEAN, ISKP34_EVENTS),
    ("ISKP35能登島", ISKP35_F, ISKP35_MEAN, ISKP35_EVENTS),
    ("ISKP36鹿西", ISKP36_F, ISKP36_MEAN, ISKP36_EVENTS),
    ("ISKP38門前", ISKP38_F, ISKP38_MEAN, ISKP38_EVENTS),
    ("ISKP40柳田", ISKP40_F, ISKP40_MEAN, ISKP40_EVENTS),
    ("ISKP41内浦", ISKP41_F, ISKP41_MEAN, ISKP41_EVENTS),
    ("JMA535七尾", JMA535_F, JMA535_MEAN, JMA535_EVENTS),
    ("JMA536小松", JMA536_F, JMA536_MEAN, JMA536_EVENTS),
    ("JMA913津幡", JMA913_F, JMA913_MEAN, JMA913_EVENTS),
    ("JMA914富来", JMA914_F, JMA914_MEAN, JMA914_EVENTS),
    ("JMA915宇出津", JMA915_F, JMA915_MEAN, JMA915_EVENTS),
    ("JMACC9舳倉島", JMACC9_F, JMACC9_MEAN, JMACC9_EVENTS),
    ("JMACCA珠洲", JMACCA_F, JMACCA_MEAN, JMACCA_EVENTS),
    ("JMACCB羽咋", JMACCB_F, JMACCB_MEAN, JMACCB_EVENTS),
    ("JMACCC加賀", JMACCC_F, JMACCC_MEAN, JMACCC_EVENTS),
]

# axis set-up shared by every panel (log-log, 0.1 to 40 on both axes)
DOMAIN = [0.1, 40]
MAJOR = [0.1, 1, 10]
MINOR = [0.2, 0.3, 0.4, 0.5, 0.6, 0.7, 0.8, 0.9,
         2, 3, 4, 5, 6, 7, 8, 9, 20, 30, 40]
GRID = [0.2, 0.5, 1, 2, 5, 10, 20]

FONT = "Liberation Sans, Arial, Helvetica, 'Noto Sans CJK JP', sans-serif"
PANEL = 188
GREY = "#9b9b9b"
RED = "#e4262a"


def tick_axis(orient, values, size):
    return alt.Axis(orient=orient, values=values, labels=False, domain=False,
                    grid=False, ticks=True, tickSize=size, tickWidth=1.4,
                    tickColor="black", title=None)


def panel(name, freq, mean, events):
    mean_df = pd.DataFrame({"f": freq, "v": mean})
    ev_rows = []
    for k, ev in enumerate(events):
        for fi, vi in zip(freq, ev):
            ev_rows.append({"f": fi, "v": vi, "run": k})
    ev_df = pd.DataFrame(ev_rows)

    xs = alt.Scale(type="log", domain=DOMAIN, nice=False)
    ys = alt.Scale(type="log", domain=DOMAIN, nice=False)

    def xy(xaxis, yaxis):
        return dict(x=alt.X("f:Q", scale=xs, axis=xaxis),
                    y=alt.Y("v:Q", scale=ys, axis=yaxis))

    grid = alt.Chart(mean_df).mark_line(opacity=0).encode(**xy(
        alt.Axis(values=GRID, grid=True, gridColor="#404040", gridWidth=1,
                 ticks=False, labels=False, domain=False, title=None),
        alt.Axis(values=GRID, grid=True, gridColor="#404040", gridWidth=1,
                 ticks=False, labels=False, domain=False, title=None)))

    grey = alt.Chart(ev_df).mark_line(color=GREY, strokeWidth=1.2, clip=True).encode(
        detail="run:N",
        **xy(alt.Axis(orient="bottom", values=MAJOR, format="~g", ticks=False,
                      domain=False, grid=False, labelFontSize=28, labelPadding=10,
                      labelFlush=False, labelColor="black", labelFont=FONT,
                      title="Frequency (Hz)", titleFontSize=30, titleFont=FONT,
                      titleFontWeight="normal", titleColor="black", titlePadding=-1),
             alt.Axis(orient="left", values=MAJOR, format="~g", ticks=False,
                      domain=False, grid=False, labelFontSize=28, labelPadding=4,
                      labelFlush=False, labelColor="black", labelFont=FONT,
                      title="H/V Spectral Ratio", titleFontSize=30, titleFont=FONT,
                      titleFontWeight="normal", titleColor="black", titlePadding=10)))

    red = alt.Chart(mean_df).mark_line(color=RED, strokeWidth=5.5, clip=True,
                                       strokeJoin="round", strokeCap="round").encode(
        **xy(tick_axis("bottom", MAJOR, 6), tick_axis("left", MAJOR, 7)))

    top_major = alt.Chart(mean_df).mark_line(opacity=0).encode(
        **xy(tick_axis("top", MAJOR, 7), tick_axis("right", MAJOR, 7)))
    low_minor = alt.Chart(mean_df).mark_line(opacity=0).encode(
        **xy(tick_axis("bottom", MINOR, 3), tick_axis("left", MINOR, 3.5)))
    top_minor = alt.Chart(mean_df).mark_line(opacity=0).encode(
        **xy(tick_axis("top", MINOR, 3.5), tick_axis("right", MINOR, 3.5)))

    return alt.layer(grid, grey, red, top_major, low_minor, top_minor).resolve_axis(
        x="independent", y="independent"
    ).properties(
        width=PANEL, height=PANEL,
        title=alt.TitleParams(name, fontSize=35, font=FONT, fontWeight="normal",
                              color="black", anchor="middle", frame="group",
                              offset=-14),
    )


panels = [panel(*s) for s in STATIONS]

chart = alt.concat(
    *panels, columns=4, spacing={"row": 157.8, "column": 120}, bounds="flush"
).properties(
    padding={"left": 9, "top": 8, "right": 5, "bottom": 5},
    background="white",
).configure_view(
    stroke="black", strokeWidth=3
)

chart.save("out.html", embed_options={"renderer": "svg", "actions": False})
